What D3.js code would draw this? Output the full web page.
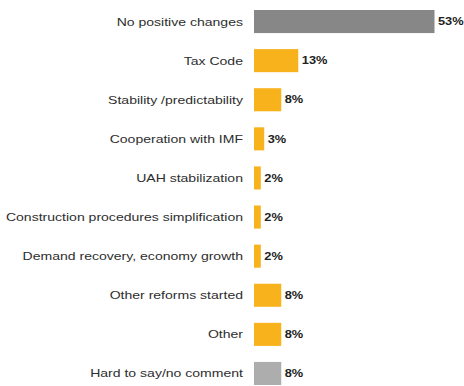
<!DOCTYPE html>
<html><head><meta charset="utf-8">
<script src="https://cdn.jsdelivr.net/npm/d3@7"></script>
<style>body{margin:0;background:#fff}svg{display:block}</style>
</head><body>
<svg id="c" width="464" height="386"></svg>
<script>
const categories = ["No positive changes","Tax Code","Stability /predictability","Cooperation with IMF","UAH stabilization","Construction procedures simplification","Demand recovery, economy growth","Other reforms started","Other","Hard to say/no comment"];
const values = [53,13,8,3,2,2,2,8,8,8];
const colorKeys = ["dark","orange","orange","orange","orange","orange","orange","orange","orange","light"];
const palette = {dark:"#878787", orange:"#F8B21C", light:"#ADADAD"};

const svg = d3.select("#c");
const x0 = 254;
const x = d3.scaleLinear().domain([0,53]).range([x0, 434.5]);
const y = d3.scaleBand().domain(categories).range([10, 385]).paddingInner(0.41).paddingOuter(0);
const stretch = 1.22;

const g = svg.append("g");
g.selectAll("rect").data(categories).join("rect")
  .attr("x", x(0)).attr("y", d=>y(d))
  .attr("width", (d,i)=>x(values[i])-x(0))
  .attr("height", y.bandwidth())
  .attr("fill", (d,i)=>palette[colorKeys[i]]);

g.selectAll("text.cat").data(categories).join("text")
  .attr("class","cat")
  .attr("x", 243).attr("y", d=>y(d)+y.bandwidth()/2)
  .attr("dy","0.35em").attr("text-anchor","end")
  .attr("font-family","Liberation Sans, Arial, sans-serif")
  .attr("font-size", 11.5).attr("fill","#2e2e2e")
  .text(d=>d)
  .each(function(){ const w=this.getComputedTextLength(); d3.select(this).attr("textLength", w*stretch).attr("lengthAdjust","spacingAndGlyphs"); });

g.selectAll("text.val").data(categories).join("text")
  .attr("class","val")
  .attr("x", (d,i)=>x(values[i])+3.5).attr("y", d=>y(d)+y.bandwidth()/2)
  .attr("dy","0.35em")
  .attr("font-family","Liberation Sans, Arial, sans-serif")
  .attr("font-size", 10.5).attr("font-weight","bold").attr("fill","#222")
  .text((d,i)=>values[i]+"%")
  .each(function(){ const w=this.getComputedTextLength(); d3.select(this).attr("textLength", w*stretch).attr("lengthAdjust","spacingAndGlyphs"); });
</script>
</body></html>
